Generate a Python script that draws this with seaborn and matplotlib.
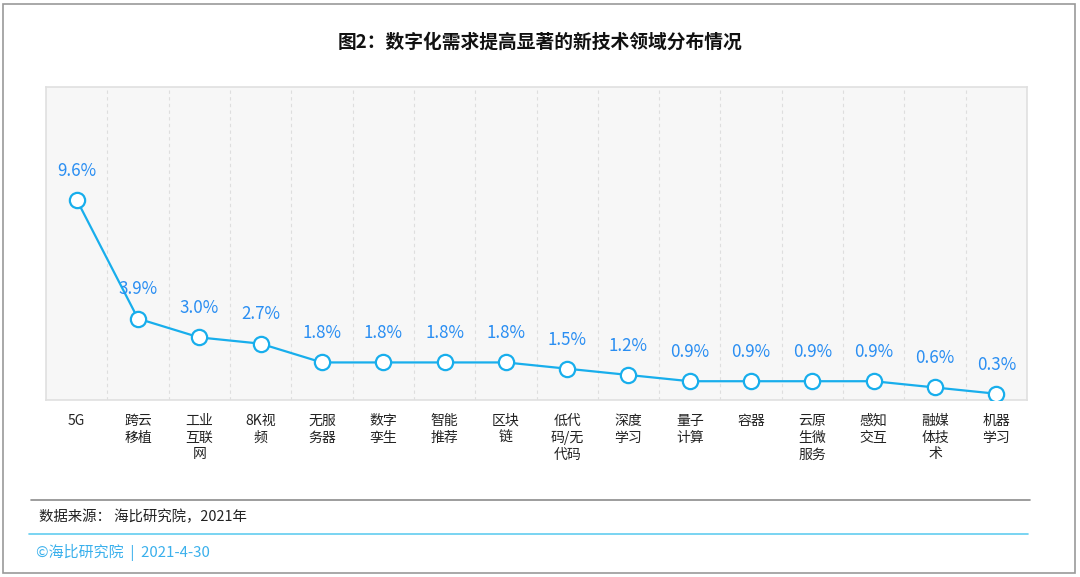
import matplotlib
matplotlib.use("Agg")
import matplotlib.pyplot as plt
from matplotlib.lines import Line2D
from matplotlib.patches import Rectangle
import seaborn as sns
import pandas as pd

# ---- data ----
categories = ["5G", "跨云移植", "工业互联网", "8K视频", "无服务器", "数字孪生", "智能推荐", "区块链",
              "低代码/无代码", "深度学习", "量子计算", "容器", "云原生微服务", "感知交互", "融媒体技术", "机器学习"]
tick_labels = ["5G", "跨云\n移植", "工业\n互联\n网", "8K视\n频", "无服\n务器", "数字\n孪生", "智能\n推荐", "区块\n链",
               "低代\n码/无\n代码", "深度\n学习", "量子\n计算", "容器", "云原\n生微\n服务", "感知\n交互", "融媒\n体技\n术", "机器\n学习"]
values = [9.6, 3.9, 3.0, 2.7, 1.8, 1.8, 1.8, 1.8, 1.5, 1.2, 0.9, 0.9, 0.9, 0.9, 0.6, 0.3]
title_text = "图2：数字化需求提高显著的新技术领域分布情况"
source_text = "数据来源： 海比研究院，2021年"
footer_text = "©海比研究院  |  2021-4-30"

sns.set_theme(style="white")
plt.rcParams["font.family"] = ["Noto Sans CJK SC", "DejaVu Sans"]

W, H = 1080, 577
fig = plt.figure(figsize=(W / 100, H / 100), dpi=100)
fig.patch.set_facecolor("white")

# axes placement (pixels -> figure fraction)
left, right, top, bottom = 46, 1027, 87, 400
ax = fig.add_axes([left / W, 1 - bottom / H, (right - left) / W, (bottom - top) / H])
ax.set_facecolor("#f7f7f7")

df = pd.DataFrame({"pos": list(range(len(categories))), "category": categories, "value": values})

line_color = "#18aeec"
label_color = "#2a8ef2"

sns.lineplot(data=df, x="pos", y="value", ax=ax, color=line_color, linewidth=1.6,
             marker="o", markersize=11, markerfacecolor="white", markeredgecolor=line_color,
             markeredgewidth=1.6, zorder=3)

for x, v in zip(df["pos"], df["value"]):
    ax.annotate(f"{v:.1f}%", (x, v), xytext=(0, 21), textcoords="offset points",
                ha="center", va="center", fontsize=12.2, color=label_color, zorder=4)

ax.set_xlim(-0.5, len(categories) - 0.5)
ax.set_ylim(0, 15)
ax.set_xlabel("")
ax.set_ylabel("")
ax.set_yticks([])
ax.set_xticks(df["pos"])
ax.set_xticklabels(tick_labels, fontsize=10, color="#222222", linespacing=1.25, va="top")
ax.tick_params(axis="x", length=0, pad=10)

# category separator dashed gridlines
for b in range(len(categories) - 1):
    ax.axvline(b + 0.5, color="#dedede", linestyle=(0, (3, 3)), linewidth=0.8, zorder=1)

for s in ax.spines.values():
    s.set_color("#e0e0e0")
    s.set_linewidth(1.2)
    s.set_visible(True)

# title
fig.text(540 / W, 1 - 42 / H, title_text, ha="center", va="center", fontsize=13.5,
         fontweight="bold", color="#111111")

# footer lines and texts
fig.add_artist(Line2D([31 / W, 1030 / W], [1 - 500 / H, 1 - 500 / H], color="#8c8c8c", linewidth=1.2))
fig.text(39 / W, 1 - 517 / H, source_text, ha="left", va="center", fontsize=10.4, color="#222222")
fig.add_artist(Line2D([29 / W, 1028 / W], [1 - 533.5 / H, 1 - 533.5 / H], color="#62cdf0", linewidth=1.2))
fig.text(36 / W, 1 - 552 / H, footer_text, ha="left", va="center", fontsize=10.8, color="#3ab0ec")

# outer border
fig.add_artist(Rectangle((3 / W, 1 - 572.5 / H), (1075 - 3) / W, (572.5 - 4) / H,
                         fill=False, edgecolor="#999999", linewidth=1.2, transform=fig.transFigure))

fig.savefig("out.png", dpi=100, facecolor="white")
